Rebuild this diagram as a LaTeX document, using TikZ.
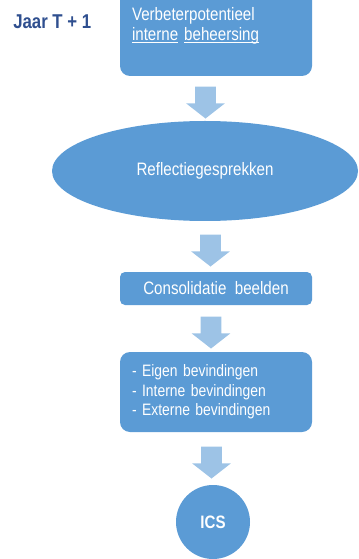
\documentclass[tikz,border=0pt]{standalone}
\usepackage{fontspec}
\setmainfont{Liberation Sans}[FakeStretch=0.84]
\usetikzlibrary{shapes.geometric,shapes.arrows,calc}
\definecolor{vlak}{HTML}{5B9BD5}
\definecolor{pijlkleur}{HTML}{9DC3E6}
\definecolor{jaarkleur}{HTML}{2F4F8F}
\begin{document}
\begin{tikzpicture}[x=0.75pt,y=-0.75pt,
	blok/.style={fill=vlak, text=white, rounded corners=7.5pt, minimum width=144pt, inner xsep=9pt, font=\fontsize{13.5}{15}\selectfont},
	pijl/.style={single arrow, fill=pijlkleur, rotate=-90, minimum height=24pt, inner xsep=0pt, inner ysep=7.5pt, single arrow head extend=6.75pt, single arrow tip angle=104}]
	\useasboundingbox (0,0) rectangle (358,559);
	
	\node[anchor=base west, inner sep=0pt, text=jaarkleur, font=\fontsize{15}{18}\selectfont\bfseries] (jaar) at (13,29) {Jaar T + 1};
	
	\node[blok, minimum height=75.75pt, text width=126pt, align=left] (verbeter) at (216,25.5) {Verbeterpotentieel\\\underline{\smash{interne}} \underline{\smash{beheersing}}};
	\node[ellipse, fill=vlak, text=white, minimum width=229.5pt, minimum height=75pt, font=\fontsize{13.5}{15}\selectfont] (reflectie) at (205,171) {Reflectiegesprekken};
	\node[blok, rounded corners=3.75pt, minimum height=24.75pt] (consolidatie) at (216,288.5) {Consolidatie\ \ beelden};
	\node[blok, minimum height=60pt, text width=126pt, align=left, font=\fontsize{12.4}{14.6}\selectfont] (bevindingen) at (216,392) {- Eigen bevindingen\\- Interne bevindingen\\- Externe bevindingen};
	\node[circle, fill=vlak, text=white, minimum size=55.5pt, font=\fontsize{13.5}{15}\selectfont\bfseries] (ics) at (213,522) {ICS};
	
	% pijlen tussen de stappen
	\node[pijl] (p1) at ($(verbeter.south)!0.5!(reflectie.north)+(-5,0)$) {};
	\node[pijl] (p2) at ($(reflectie.south)!0.5!(consolidatie.north)$) {};
	\node[pijl] (p3) at ($(consolidatie.south)!0.5!(bevindingen.north)+(-5,0)$) {};
	\node[pijl] (p4) at ($(bevindingen.south)!0.5!(ics.north)+(-3,0)$) {};
\end{tikzpicture}
\end{document}
